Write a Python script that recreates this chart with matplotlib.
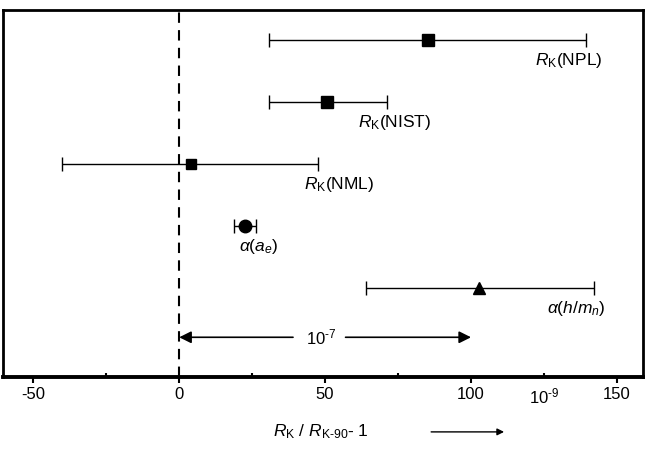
import matplotlib
matplotlib.use("Agg")
import matplotlib.pyplot as plt
from matplotlib.ticker import MultipleLocator

plt.rcParams['font.family'] = ['Liberation Sans', 'DejaVu Sans']
plt.rcParams['mathtext.fontset'] = 'custom'
plt.rcParams['mathtext.rm'] = 'Liberation Sans'
plt.rcParams['mathtext.it'] = 'Liberation Sans:italic'
plt.rcParams['axes.unicode_minus'] = False

# values in units of 1e-9
labels = [r'$R_{\rm K}$(NPL)', r'$R_{\rm K}$(NIST)', r'$R_{\rm K}$(NML)',
          r'$\alpha(a_e)$', r'$\alpha(h/m_n)$']
centers = [85.3, 50.7, 3.9, 22.7, 102.9]
lows = [30.8, 30.8, -40.1, 18.9, 63.9]
highs = [139.5, 71.1, 47.6, 26.2, 142.0]
rows = [5, 4, 3, 2, 1]
markers = ['s', 's', 's', 'o', '^']
msizes = [8, 8, 7.5, 9, 8.5]
# label anchor (right edge, data units)
lab_x = [145, 86.5, 67, 34, 146]

fig = plt.figure(figsize=(6.54, 4.58), dpi=100)
ax = fig.add_axes([0.005, 0.177, 0.978, 0.801])

for c, lo, hi, r, m, ms in zip(centers, lows, highs, rows, markers, msizes):
    ax.errorbar([c], [r], xerr=[[c - lo], [hi - c]], fmt=m, color='black',
                ms=ms, elinewidth=1.0, capsize=5, capthick=1.0)

for lab, lx, r in zip(labels, lab_x, rows):
    ax.text(lx, r - 0.33, lab, ha='right', va='center', fontsize=12.5)

ax.axvline(0, color='black', linestyle=(0, (5, 3.5)), linewidth=1.5)

# 10^-7 double arrow from 0 to 100
arrow_y = 0.2
ax.annotate('', xy=(0, arrow_y), xytext=(39, arrow_y),
            arrowprops=dict(arrowstyle='-|>', color='black', lw=1.2,
                            mutation_scale=18, shrinkA=0, shrinkB=0))
ax.annotate('', xy=(100, arrow_y), xytext=(57, arrow_y),
            arrowprops=dict(arrowstyle='-|>', color='black', lw=1.2,
                            mutation_scale=18, shrinkA=0, shrinkB=0))
ax.text(48.5, arrow_y, r'10$^{\text{-}7}$', ha='center', va='center', fontsize=12)

ax.set_xlim(-60.3, 158.9)
ax.set_ylim(-0.44, 5.48)
ax.set_yticks([])
ax.xaxis.set_major_locator(MultipleLocator(50))
ax.xaxis.set_minor_locator(MultipleLocator(25))
ax.tick_params(axis='x', which='major', direction='out', length=4, width=1.5,
               labelsize=12, pad=3)
ax.tick_params(axis='x', which='minor', direction='in', length=3, width=1.5)
for s in ['left', 'right', 'top']:
    ax.spines[s].set_linewidth(2)
ax.spines['bottom'].set_linewidth(2.8)

# extra unit label on the axis
ax.text(125, -0.025, r'10$^{\text{-}9}$', transform=ax.get_xaxis_transform(),
        ha='center', va='top', fontsize=12)

fig.text(0.49, 0.057, r'$R_{\rm K}$ / $R_{\rm K\text{-}90}$- 1', ha='center',
         va='center', fontsize=12.5)
fig.patches.append(matplotlib.patches.FancyArrowPatch(
    (0.655, 0.057), (0.775, 0.057), transform=fig.transFigure,
    arrowstyle='-|>', mutation_scale=10, color='black', lw=1.0))

fig.savefig('out.png', dpi=100)
